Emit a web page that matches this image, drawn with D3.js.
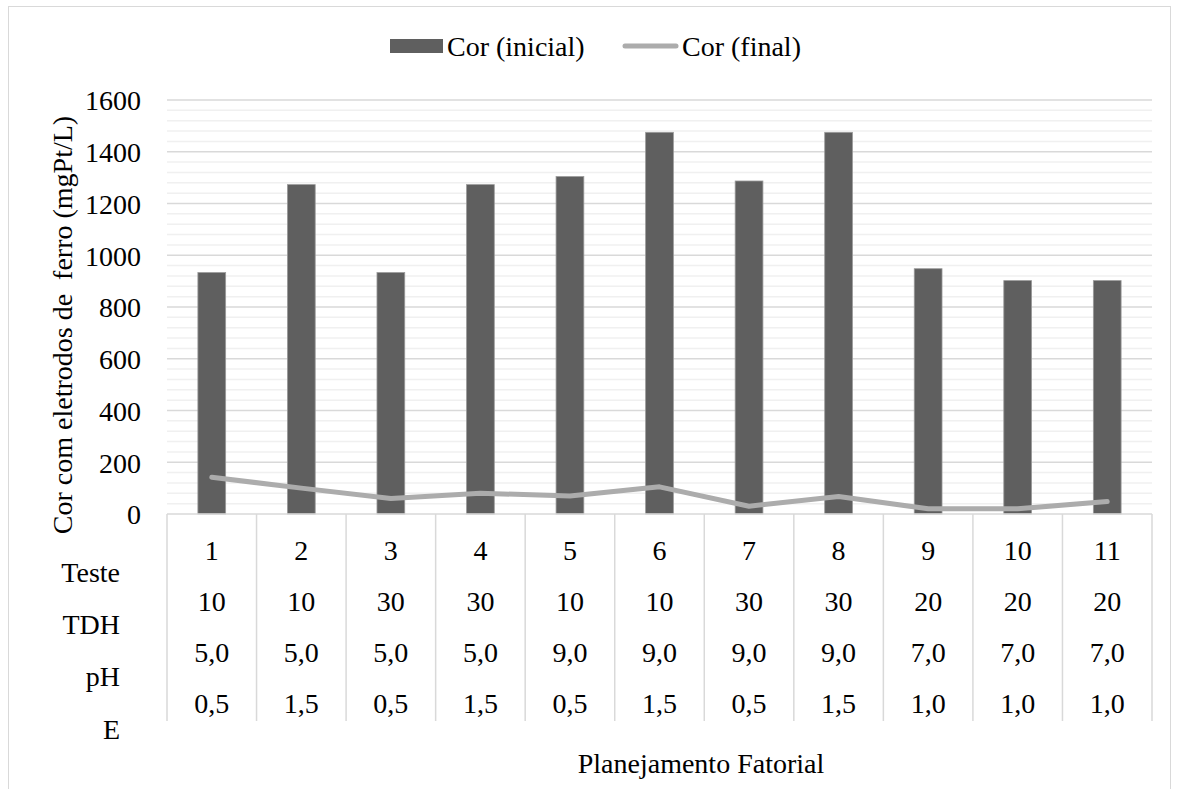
<!DOCTYPE html>
<html><head><meta charset="utf-8">
<script src="https://cdn.jsdelivr.net/npm/d3@7"></script>
<style>
html,body{margin:0;padding:0;background:#fff;}
svg text{fill:#000;}
</style></head>
<body><svg id="c" width="1178" height="789"></svg>
<script>
const categories = ["1","2","3","4","5","6","7","8","9","10","11"];
const tdh = ["10","10","30","30","10","10","30","30","20","20","20"];
const ph = ["5,0","5,0","5,0","5,0","9,0","9,0","9,0","9,0","7,0","7,0","7,0"];
const eVals = ["0,5","1,5","0,5","1,5","0,5","1,5","0,5","1,5","1,0","1,0","1,0"];
const rowLabels = ["Teste","TDH","pH","E"];
const corInicial = [933,1273,933,1273,1304,1475,1287,1475,948,902,902];
const corFinal = [142,100,60,80,70,105,30,68,20,20,48];
const yTicks = [0,200,400,600,800,1000,1200,1400,1600];
const seriesNames = ["Cor (inicial)","Cor (final)"];
const yTitle = "Cor com eletrodos de \u00a0ferro (mgPt/L)";
const xTitle = "Planejamento Fatorial";

(function(){
// pick an installed serif face
const cands = ["Liberation Serif","Tinos","Times New Roman","DejaVu Serif","Noto Serif","FreeSerif","Nimbus Roman","Nimbus Roman No9 L","Times"];
const cv = document.createElement("canvas").getContext("2d");
const probe = "mmmmWWiillTTeestt 0123456789";
function w(f){ cv.font = "40px " + f; return cv.measureText(probe).width; }
const baseM = w("monospace"), baseS = w("sans-serif");
let fam = null;
for (const c of cands){
  const q = "'" + c + "'";
  if (Math.abs(w(q+",monospace")-baseM)>0.5 || Math.abs(w(q+",sans-serif")-baseS)>0.5){ fam = q; break; }
}
const FONT = (fam ? fam + "," : "") + "'Liberation Serif',serif";

const svg = d3.select("#c").style("font-family", FONT);
const FS = 28;
const pL = 167, pR = 1152, pT = 100, pB = 514;

svg.append("rect").attr("x",8.5).attr("y",6.5).attr("width",1162).attr("height",800)
  .attr("fill","none").attr("stroke","#d9d9d9").attr("stroke-width",1);

const x = d3.scaleBand().domain(categories).range([pL,pR]).padding(0);
const y = d3.scaleLinear().domain([0,1600]).range([pB,pT]);

const minor = d3.range(40,1600,40).filter(v=>v%200!==0);
svg.append("g").selectAll("line").data(minor).join("line")
  .attr("x1",pL).attr("x2",pR).attr("y1",d=>y(d)).attr("y2",d=>y(d))
  .attr("stroke","#f0f0f0").attr("stroke-width",1.5);
svg.append("g").selectAll("line").data(yTicks.filter(v=>v>0)).join("line")
  .attr("x1",pL).attr("x2",pR).attr("y1",d=>y(d)).attr("y2",d=>y(d))
  .attr("stroke","#d9d9d9").attr("stroke-width",1.5);

const yAxis = d3.axisLeft(y).tickValues(yTicks).tickFormat(d3.format("d")).tickSize(0).tickPadding(26);
const gy = svg.append("g").attr("transform",`translate(${pL},0)`).call(yAxis);
gy.attr("font-family",FONT).attr("font-size",FS);
gy.select(".domain").remove();
gy.selectAll("text").attr("fill","#000").attr("dy","0.35em");

const bw = x.bandwidth()*0.31;
svg.append("g").selectAll("rect").data(corInicial).join("rect")
  .attr("x",(d,i)=>x(categories[i])+x.bandwidth()/2-bw/2)
  .attr("width",bw)
  .attr("y",d=>y(d)).attr("height",d=>pB-y(d))
  .attr("fill","#5f5f5f").attr("stroke","#9a9a9a").attr("stroke-width",0.8);

const line = d3.line().x((d,i)=>x(categories[i])+x.bandwidth()/2).y(d=>y(d));
svg.append("path").datum(corFinal).attr("d",line).attr("fill","none")
  .attr("stroke","#acacac").attr("stroke-width",5).attr("stroke-linecap","round").attr("stroke-linejoin","round");

svg.append("line").attr("x1",pL).attr("x2",pR).attr("y1",pB).attr("y2",pB)
  .attr("stroke","#d9d9d9").attr("stroke-width",1.5);
const bounds = categories.map(c=>x(c)).concat([pR]);
svg.append("g").selectAll("line").data(bounds).join("line")
  .attr("x1",d=>d).attr("x2",d=>d).attr("y1",pB).attr("y2",721)
  .attr("stroke","#d9d9d9").attr("stroke-width",1.5);

const rows = [categories, tdh, ph, eVals];
const rowY = [550, 601, 652, 703];
rows.forEach((r,ri)=>{
  svg.append("g").selectAll("text").data(r).join("text")
    .attr("x",(d,i)=>x(categories[i])+x.bandwidth()/2)
    .attr("y",rowY[ri]).attr("dy","0.35em").attr("text-anchor","middle")
    .attr("font-size",FS).text(d=>d);
});
const labY = [572, 624, 676, 729];
svg.append("g").selectAll("text").data(rowLabels).join("text")
  .attr("x",120).attr("y",(d,i)=>labY[i]).attr("dy","0.35em").attr("text-anchor","end")
  .attr("font-size",FS).text(d=>d);

svg.append("text").attr("x",701).attr("y",763).attr("dy","0.35em").attr("text-anchor","middle")
  .attr("font-size",FS).text(xTitle);

svg.append("text").attr("transform",`translate(62,${(pT+pB)/2+18}) rotate(-90)`)
  .attr("text-anchor","middle").attr("dy","0.35em").attr("font-size",FS).text(yTitle);

svg.append("rect").attr("x",390).attr("y",39).attr("width",53).attr("height",14).attr("fill","#5f5f5f");
svg.append("text").attr("x",447).attr("y",46).attr("dy","0.35em").attr("font-size",FS).text(seriesNames[0]);
svg.append("line").attr("x1",625).attr("x2",676).attr("y1",46).attr("y2",46)
  .attr("stroke","#acacac").attr("stroke-width",5).attr("stroke-linecap","round");
svg.append("text").attr("x",682).attr("y",46).attr("dy","0.35em").attr("font-size",FS).text(seriesNames[1]);
})();
</script></body></html>
